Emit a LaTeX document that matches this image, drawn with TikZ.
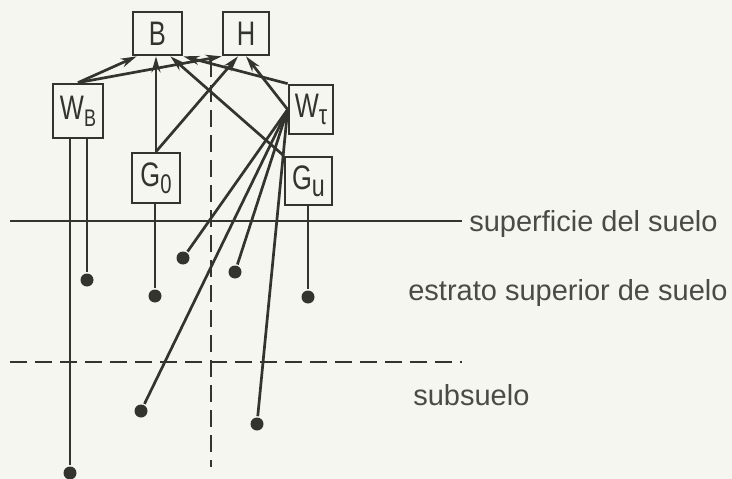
\documentclass[tikz,border=0pt]{standalone}
\usepackage{fontspec}
\setmainfont{Liberation Sans}
\newfontfamily\boxfont[FakeStretch=0.75]{Liberation Sans}
\usetikzlibrary{arrows.meta,calc}
\definecolor{ink}{HTML}{34342F}
\definecolor{paper}{HTML}{F5F6EF}
\definecolor{txt}{HTML}{4A4A46}
\newcommand{\lsub}[2][16]{\raisebox{-0.2em}{\fontsize{#1}{#1}\selectfont #2}}
\begin{document}
\begin{tikzpicture}[x=1pt,y=-1pt, line width=2.7pt, color=ink,
  box/.style={draw=ink, line width=2.7pt, inner sep=0pt, font=\boxfont\fontsize{34}{34}\selectfont, text=ink},
  dot/.style={circle, fill=ink, inner sep=0pt, minimum size=13pt},
  arr/.style={-{Stealth[length=16pt,width=9pt]}},
  lab/.style={font=\fontsize{29}{29}\selectfont, text=txt, anchor=base west, inner sep=0pt},
  dsh/.style={dash pattern=on 17pt off 8pt}]
\fill[paper] (0,0) rectangle (732,479);
\useasboundingbox (0,0) rectangle (732,479);

% boxes
\node[box, minimum width=49pt, minimum height=43pt] (B) at (157.5,33.5) {B};
\node[box, minimum width=46pt, minimum height=43pt] (H) at (246,33.5) {H};
\node[box, minimum width=50pt, minimum height=54pt] (WB) at (78,111) {W\lsub[24]{B}};
\node[box, minimum width=44pt, minimum height=49pt] (WT) at (311,109.5) {W\lsub[28]{τ}};
\node[box, minimum width=48pt, minimum height=50pt] (G0) at (156,178) {G\lsub[27]{0}};
\node[box, minimum width=47pt, minimum height=48pt] (Gu) at (308.5,181) {G\lsub[31]{u}};

% dots
\node[dot] (dWB1) at (70,473) {};
\node[dot] (dWB2) at (87,280) {};
\node[dot] (dG0) at (155,296) {};
\node[dot] (dGu) at (308,297) {};
\node[dot] (dT1) at (183,258) {};
\node[dot] (dT2) at (235,272) {};
\node[dot] (dT3) at (141,411) {};
\node[dot] (dT4) at (257,424) {};

% soil lines
\coordinate (g1) at (10,221); \coordinate (g2) at (462,221);
\draw (g1) -- (g2);
\coordinate (s1) at (10,362); \coordinate (s2) at (462,362);
\draw[dsh] (s1) -- (s2);
\coordinate (v1) at (211,60); \coordinate (v2) at (211,467);
\draw[dsh] (v1) -- (v2);

\node[lab] (ls) at (468,231) {superficie del suelo};
\node[lab] (le) at (407,300) {estrato superior de suelo};
\node[lab] (lb) at (412,405) {subsuelo};

% arrows to B and H
\draw[arr] (WB.north) -- ($(B.south west)+(5,0)$);
\draw[arr] (WB.north) -- (H.south west);
\draw[arr] (G0.north) -- (G0.north |- B.south);
\draw[arr] (G0.north) -- ($(H.south)+(-8,0)$);
\draw[arr] (Gu.north west) -- ($(B.south east)+(-13,0)$);
\draw[arr] (WT.north west) -- (B.south east);
\draw[arr] (WT.west) -- (H.south);

% roots / lines to dots
\draw (dWB1 |- WB.south) -- (dWB1);
\draw (dWB2 |- WB.south) -- (dWB2);
\draw (dG0 |- G0.south) -- (dG0);
\draw (dGu |- Gu.south) -- (dGu);
\draw (WT.west) -- (dT1);
\draw (WT.west) -- (dT2);
\draw (WT.west) -- (dT3);
\draw (WT.west) -- (dT4);
\end{tikzpicture}
\end{document}
